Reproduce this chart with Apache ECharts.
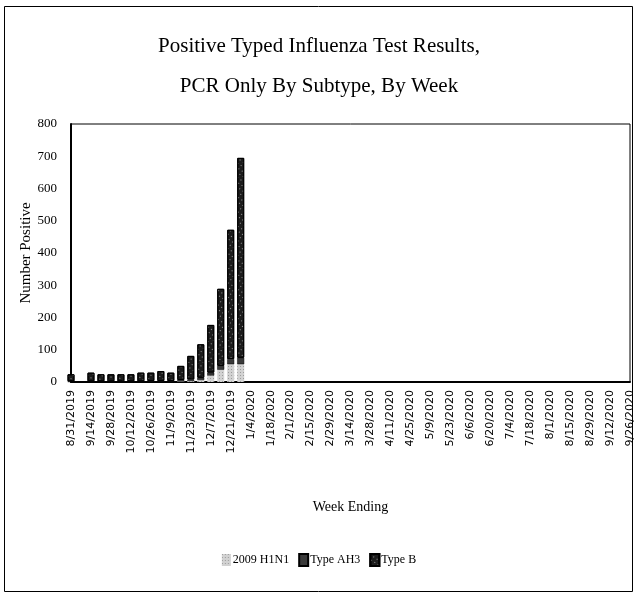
<!DOCTYPE html>
<html>
<head>
<meta charset="utf-8">
<script src="https://cdn.jsdelivr.net/npm/echarts@6/dist/echarts.min.js"></script>
<style>
html,body{margin:0;padding:0;background:#fff;}
#chart{width:638px;height:595px;}
</style>
</head>
<body>
<div id="chart"></div>
<script>
var weeks = [
  '8/31/2019','9/7/2019','9/14/2019','9/21/2019','9/28/2019','10/5/2019','10/12/2019','10/19/2019',
  '10/26/2019','11/2/2019','11/9/2019','11/16/2019','11/23/2019','11/30/2019','12/7/2019','12/14/2019',
  '12/21/2019','12/28/2019',
  '1/4/2020','1/11/2020','1/18/2020','1/25/2020','2/1/2020','2/8/2020','2/15/2020','2/22/2020',
  '2/29/2020','3/7/2020','3/14/2020','3/21/2020','3/28/2020','4/4/2020','4/11/2020','4/18/2020',
  '4/25/2020','5/2/2020','5/9/2020','5/16/2020','5/23/2020','5/30/2020','6/6/2020','6/13/2020',
  '6/20/2020','6/27/2020','7/4/2020','7/11/2020','7/18/2020','7/25/2020','8/1/2020','8/8/2020',
  '8/15/2020','8/22/2020','8/29/2020','9/5/2020','9/12/2020','9/19/2020','9/26/2020'
];
var h1n1  = [0, 0, 0, 0, 0, 0, 0, 0, 0, 0, 0, 2, 3, 6, 20, 38, 55, 55];
var typeAH3 = [2, 0, 2, 2, 2, 2, 2, 2, 3, 3, 3, 4, 5, 7, 9, 12, 16, 20];
var typeB = [22, 0, 27, 22, 22, 22, 22, 27, 26, 31, 26, 44, 73, 104, 148, 239, 401, 620];
var yTicks = [0, 100, 200, 300, 400, 500, 600, 700, 800];

var chart = echarts.init(document.getElementById('chart'), null, {renderer: 'canvas'});
var serif = 'Liberation Serif';
chart.setOption({
  animation: false,
  backgroundColor: '#fff',
  title: {
    text: 'Positive Typed Influenza Test Results,\nPCR Only By Subtype, By Week',
    left: 'center',
    top: 21,
    textStyle: {fontFamily: serif, fontSize: 21, fontWeight: 'normal', color: '#000', lineHeight: 40}
  },
  graphic: [{
    type: 'rect',
    shape: {x: 4.5, y: 6.5, width: 628, height: 585},
    style: {fill: 'none', stroke: '#000', lineWidth: 1},
    silent: true
  }],
  legend: {
    bottom: 23,
    left: 'center',
    itemWidth: 9,
    itemHeight: 12,
    itemGap: 9,
    icon: 'rect',
    textStyle: {fontFamily: serif, fontSize: 12, color: '#000', padding: [0, 0, 0, -3]},
    data: ['2009 H1N1', 'Type AH3', 'Type B']
  },
  grid: {
    left: 71, right: 8, top: 124, bottom: 213,
    show: true, borderColor: '#000', borderWidth: 1, backgroundColor: 'transparent'
  },
  xAxis: {
    type: 'category',
    data: weeks,
    boundaryGap: false,
    name: 'Week Ending',
    nameLocation: 'middle',
    nameGap: 118,
    nameTextStyle: {fontFamily: serif, fontSize: 14, color: '#000'},
    axisLine: {lineStyle: {color: '#000', width: 2}},
    axisTick: {show: false},
    axisLabel: {
      interval: 1, rotate: 90, margin: 8,
      fontFamily: 'DejaVu Sans', fontSize: 11, color: '#000'
    },
    splitLine: {show: false}
  },
  yAxis: {
    type: 'value',
    min: yTicks[0],
    max: yTicks[yTicks.length - 1],
    interval: 100,
    name: 'Number Positive',
    nameLocation: 'middle',
    nameGap: 37,
    nameMoveOverlap: false,
    nameTextStyle: {fontFamily: serif, fontSize: 15, color: '#000'},
    axisLine: {show: true, lineStyle: {color: '#000', width: 2}},
    axisTick: {show: false},
    axisLabel: {fontFamily: serif, fontSize: 13, color: '#000', margin: 14},
    splitLine: {show: false}
  },
  series: [
    {
      name: '2009 H1N1', type: 'bar', stack: 'flu', data: h1n1, barWidth: 7,
      itemStyle: {
        color: '#d2d2d2',
        decal: {symbol: 'rect', symbolSize: 1, color: 'rgba(120,120,120,0.6)', dashArrayX: [1, 2], dashArrayY: [1, 2]}
      }
    },
    {
      name: 'Type AH3', type: 'bar', stack: 'flu', data: typeAH3, barWidth: 7,
      itemStyle: {color: '#3a3a3a', borderColor: '#000', borderWidth: 0.5}
    },
    {
      name: 'Type B', type: 'bar', stack: 'flu', data: typeB, barWidth: 7,
      itemStyle: {
        color: '#1c1c1c', borderColor: '#000', borderWidth: 1,
        decal: {symbol: 'rect', symbolSize: 1, color: 'rgba(255,255,255,0.55)', dashArrayX: [1, 3], dashArrayY: [1, 3], rotation: 0.6}
      }
    }
  ]
});
</script>
</body>
</html>
